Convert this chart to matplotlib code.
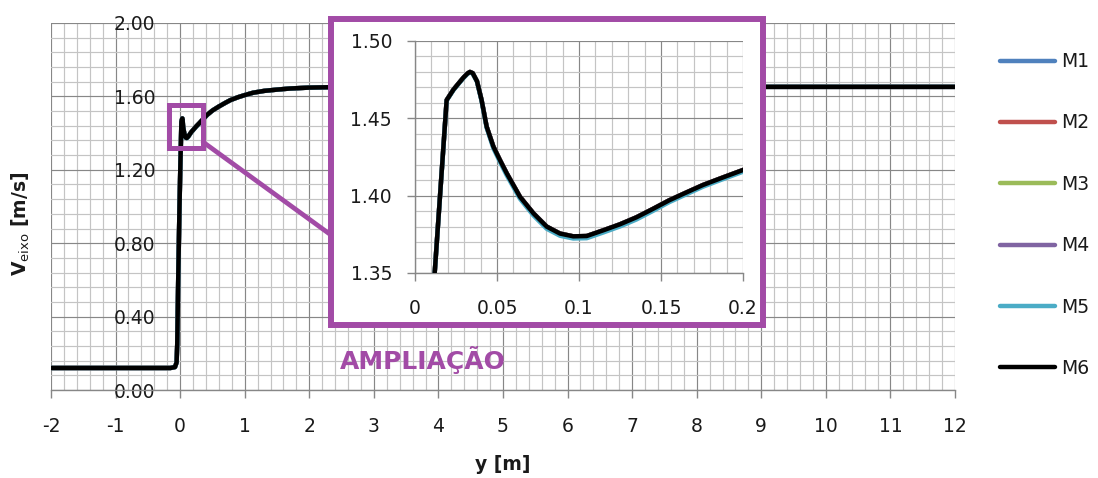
import matplotlib
matplotlib.use("Agg")
import matplotlib.pyplot as plt
from matplotlib.patches import Rectangle, ConnectionPatch
from matplotlib.ticker import MultipleLocator, FuncFormatter

# ---------------- data ----------------
y_pos = [-2.0, -1.0, -0.15, -0.08, -0.055, -0.045, -0.03, -0.01, 0.005, 0.012,
         0.0193, 0.0234, 0.0265, 0.0295, 0.0320, 0.0335, 0.0352, 0.0378, 0.0406,
         0.0437, 0.0478, 0.0518, 0.0559, 0.064, 0.0722, 0.0803, 0.0884, 0.0965,
         0.1047, 0.1148, 0.125, 0.135, 0.145, 0.155, 0.1653, 0.1756, 0.1878, 0.2,
         0.25, 0.3, 0.36, 0.42, 0.5, 0.6, 0.7, 0.78, 0.9, 1.0, 1.13, 1.3, 1.5,
         1.7, 2.0, 2.3, 3.0, 5.0, 8.0, 12.0]
v_m6 = [0.12, 0.12, 0.12, 0.125, 0.15, 0.25, 0.6, 1.0, 1.25, 1.35,
        1.4618, 1.4685, 1.4725, 1.4763, 1.4790, 1.4800, 1.4792, 1.4740, 1.4618,
        1.4446, 1.4317, 1.4230, 1.4145, 1.3993, 1.3886, 1.3800, 1.3755, 1.3737,
        1.3739, 1.3776, 1.3815, 1.3860, 1.3914, 1.3970, 1.4020, 1.4069, 1.4118, 1.4166,
        1.437, 1.455, 1.478, 1.500, 1.523, 1.545, 1.565, 1.580, 1.596, 1.607,
        1.620, 1.630, 1.637, 1.643, 1.648, 1.650, 1.652, 1.652, 1.652, 1.652]
v_m5 = [0.12, 0.12, 0.12, 0.125, 0.15, 0.25, 0.6, 1.0, 1.25, 1.35,
        1.4615, 1.4682, 1.4722, 1.4760, 1.4787, 1.4797, 1.4789, 1.4737, 1.4612,
        1.4438, 1.4306, 1.4218, 1.4132, 1.3980, 1.3872, 1.3786, 1.3741, 1.3723,
        1.3725, 1.3762, 1.3801, 1.3846, 1.3901, 1.3958, 1.4008, 1.4058, 1.4107, 1.4155,
        1.436, 1.454, 1.477, 1.499, 1.523, 1.545, 1.565, 1.580, 1.596, 1.607,
        1.620, 1.630, 1.637, 1.643, 1.648, 1.650, 1.652, 1.652, 1.652, 1.652]
v_m1 = list(v_m6)
v_m2 = list(v_m6)
v_m3 = list(v_m6)
v_m4 = list(v_m6)

series_names = ["M1", "M2", "M3", "M4", "M5", "M6"]
series_values = [v_m1, v_m2, v_m3, v_m4, v_m5, v_m6]
series_colors = ["#4F81BD", "#C0504D", "#9BBB59", "#8064A2", "#4BACC6", "#000000"]

main_xticks = list(range(-2, 13))
main_yticks = [0.0, 0.4, 0.8, 1.2, 1.6, 2.0]
inset_xticks = [0, 0.05, 0.1, 0.15, 0.2]
inset_yticks = [1.35, 1.40, 1.45, 1.50]

PURPLE = "#A24BA6"
TXT = "#1a1a1a"
MAJ = "#878787"
MINC = "#C4C4C4"

W, H = 1098, 478
plt.rcParams["font.family"] = ["DejaVu Sans"]
fig = plt.figure(figsize=(W / 100, H / 100), dpi=100)
fig.patch.set_facecolor("white")


def fx(px):
    return px / W


def fy(py):
    return 1 - py / H


# ---------------- main axes ----------------
ax = fig.add_axes([fx(51), fy(390), fx(955) - fx(51), fy(23) - fy(390)])
ax.set_zorder(0)
handles = []
for name, vals, col in zip(series_names, series_values, series_colors):
    h, = ax.plot(y_pos, vals, color=col, lw=3.2, label=name,
                 solid_capstyle="butt", solid_joinstyle="round", zorder=3)
    handles.append(h)

ax.set_xlim(-2, 12)
ax.set_ylim(0, 2.0)
ax.xaxis.set_minor_locator(MultipleLocator(0.2))
ax.yaxis.set_minor_locator(MultipleLocator(0.08))
ax.set_xticks(main_xticks)
ax.set_yticks(main_yticks)
ax.yaxis.set_major_formatter(FuncFormatter(lambda v, p: f"{v:.2f}"))
ax.xaxis.set_major_formatter(FuncFormatter(lambda v, p: f"{v:g}"))
ax.grid(which="major", color=MAJ, lw=0.85, zorder=1)
ax.grid(which="minor", color=MINC, lw=0.85, zorder=0.9)
ax.set_axisbelow(True)
for s in ["top", "right"]:
    ax.spines[s].set_visible(False)
ax.spines["left"].set_position(("data", 0))
ax.spines["left"].set_visible(False)
ax.spines["bottom"].set_color(MAJ)
ax.spines["bottom"].set_linewidth(1.0)
ax.tick_params(axis="x", which="major", direction="out", length=5.5, width=1.0,
               color=MAJ, pad=14, labelsize=13.5, labelcolor=TXT)
ax.tick_params(axis="x", which="minor", length=0)
ax.tick_params(axis="y", which="both", length=0, pad=18, labelsize=13.5,
               labelcolor=TXT)

# small zoom box
ax.add_patch(Rectangle((-0.17, 1.321), 0.526, 0.232, fill=False,
                       edgecolor=PURPLE, lw=3.6, zorder=4))

# ---------------- inset frame ----------------
frame = Rectangle((fx(331), fy(325)), fx(763) - fx(331), fy(19) - fy(325),
                  transform=fig.transFigure, facecolor="white",
                  edgecolor=PURPLE, lw=4.3, zorder=1.5)
fig.add_artist(frame)

con = ConnectionPatch(xyA=(0.356, 1.351), coordsA=ax.transData,
                      xyB=(fx(331), fy(235)), coordsB=fig.transFigure,
                      color=PURPLE, lw=3.4, zorder=1.4)
fig.add_artist(con)

# ---------------- inset axes ----------------
axi = fig.add_axes([fx(415), fy(273), fx(743) - fx(415), fy(41) - fy(273)])
axi.set_zorder(2)
for name, vals, col in zip(series_names, series_values, series_colors):
    axi.plot(y_pos, vals, color=col, lw=3.2, solid_joinstyle="round", zorder=3)
axi.set_xlim(0, 0.2)
axi.set_ylim(1.35, 1.50)
axi.xaxis.set_minor_locator(MultipleLocator(0.01))
axi.yaxis.set_minor_locator(MultipleLocator(0.01))
axi.set_xticks(inset_xticks)
axi.set_yticks(inset_yticks)
axi.xaxis.set_major_formatter(FuncFormatter(lambda v, p: f"{v:g}"))
axi.yaxis.set_major_formatter(FuncFormatter(lambda v, p: f"{v:.2f}"))
axi.grid(which="major", color=MAJ, lw=0.85)
axi.grid(which="minor", color=MINC, lw=0.85)
axi.set_axisbelow(True)
for s in ["top", "right"]:
    axi.spines[s].set_visible(False)
for s in ["left", "bottom"]:
    axi.spines[s].set_color(MAJ)
    axi.spines[s].set_linewidth(1.0)
axi.tick_params(which="major", direction="out", length=5.5, width=1.0,
                color=MAJ, labelsize=13.5, labelcolor=TXT)
axi.tick_params(axis="x", pad=13)
axi.tick_params(axis="y", pad=11)
axi.tick_params(which="minor", length=0)

# ---------------- texts ----------------
fig.text(fx(340), fy(360), "AMPLIAÇÃO", color=PURPLE, fontsize=18,
         fontweight="bold", ha="left", va="center", zorder=5)
fig.text(fx(503), fy(465), "y [m]", fontsize=13.5, fontweight="bold",
         ha="center", va="center", color=TXT)
fig.text(fx(21), fy(224), r"V$_{\mathrm{eixo}}$ [m/s]", fontsize=13.5,
         fontweight="bold", rotation=90, ha="center", va="center", color=TXT)

# ---------------- legend ----------------
leg = fig.legend(handles=handles, labels=series_names, loc="center left",
                 bbox_to_anchor=(fx(1000), fy(215)),
                 bbox_transform=fig.transFigure, frameon=False,
                 fontsize=13.5, handlelength=2.95, handletextpad=0.3,
                 labelspacing=2.26, borderpad=0, borderaxespad=0)
for t in leg.get_texts():
    t.set_color(TXT)
for l in leg.get_lines():
    l.set_linewidth(3.2)
    l.set_solid_capstyle("round")

fig.savefig("out.png", dpi=100, facecolor="white")
